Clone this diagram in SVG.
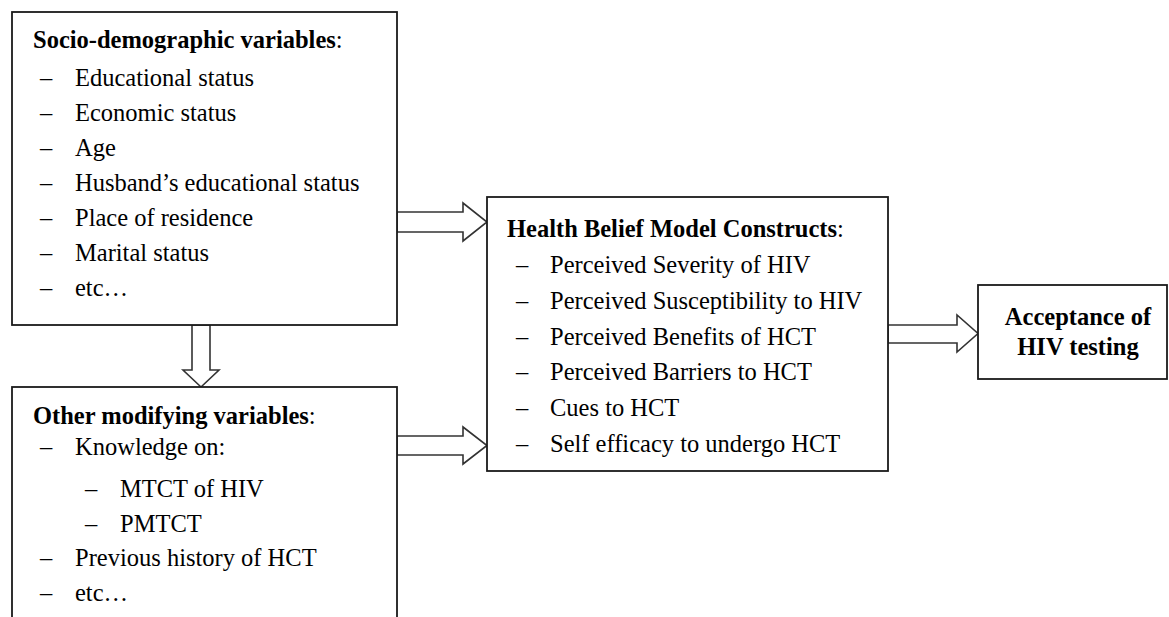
<svg xmlns="http://www.w3.org/2000/svg" width="1169" height="617" viewBox="0 0 1169 617">
<style>
.box{fill:#fff;stroke:#1a1a1a;stroke-width:1.8}
.arr{fill:#fff;stroke:#333;stroke-width:1.6;stroke-linejoin:miter}
text{font-family:"Liberation Serif","Times New Roman",serif;font-size:24.5px;fill:#000}
.b{font-weight:bold}
.c{text-anchor:middle}
</style>
<rect width="1169" height="617" fill="#fff"/>
<g id="connectors">
<polygon class="arr" points="397,212 463,212 463,203 487,222 463,241 463,232 397,232"/>
<polygon class="arr" points="397,436 463,436 463,427 487,445.5 463,464 463,455 397,455"/>
<polygon class="arr" points="888,325 957,325 957,315 978,333.5 957,352 957,343 888,343"/>
<polygon class="arr" points="192,325 192,370 183,370 201,387 219,370 210,370 210,325"/>
</g>
<g id="socio">
<rect class="box" x="12" y="12" width="385" height="313"/>
<text x="33" y="48"><tspan class="b">Socio-demographic variables</tspan>:</text>
<text x="40" y="86">–</text><text x="75" y="86">Educational status</text>
<text x="40" y="121">–</text><text x="75" y="121">Economic status</text>
<text x="40" y="156">–</text><text x="75" y="156">Age</text>
<text x="40" y="191">–</text><text x="75" y="191">Husband’s educational status</text>
<text x="40" y="226">–</text><text x="75" y="226">Place of residence</text>
<text x="40" y="261">–</text><text x="75" y="261">Marital status</text>
<text x="40" y="296">–</text><text x="75" y="296">etc…</text>
</g>
<g id="other">
<rect class="box" x="12" y="387" width="385" height="240"/>
<text x="33" y="424"><tspan class="b">Other modifying variables</tspan>:</text>
<text x="40" y="455">–</text><text x="75" y="455">Knowledge on:</text>
<text x="85" y="497">–</text><text x="120" y="497">MTCT of HIV</text>
<text x="85" y="532">–</text><text x="120" y="532">PMTCT</text>
<text x="40" y="566">–</text><text x="75" y="566">Previous history of HCT</text>
<text x="40" y="601">–</text><text x="75" y="601">etc…</text>
</g>
<g id="hbm">
<rect class="box" x="487" y="197" width="401" height="274"/>
<text x="507" y="237"><tspan class="b">Health Belief Model Constructs</tspan>:</text>
<text x="516" y="273">–</text><text x="550" y="273">Perceived Severity of HIV</text>
<text x="516" y="309">–</text><text x="550" y="309">Perceived Susceptibility to HIV</text>
<text x="516" y="345">–</text><text x="550" y="345">Perceived Benefits of HCT</text>
<text x="516" y="380">–</text><text x="550" y="380">Perceived Barriers to HCT</text>
<text x="516" y="416">–</text><text x="550" y="416">Cues to HCT</text>
<text x="516" y="452">–</text><text x="550" y="452">Self efficacy to undergo HCT</text>
</g>
<g id="acceptance">
<rect class="box" x="978" y="285" width="189" height="94"/>
<text class="b c" x="1078" y="325">Acceptance of</text>
<text class="b c" x="1078" y="355">HIV testing</text>
</g>
</svg>
